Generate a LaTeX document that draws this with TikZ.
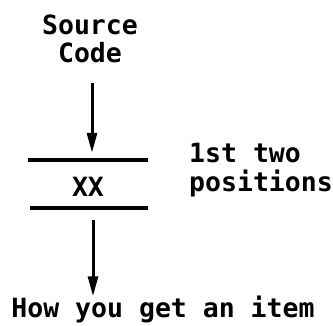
\documentclass[tikz,border=0pt]{standalone}
\usepackage{fontspec}
\newfontfamily\dmono{DejaVu Sans Mono}
\usetikzlibrary{arrows.meta}
\begin{document}
\begin{tikzpicture}[x=1pt,y=-1pt,
  lbl/.style={font=\dmono\bfseries\fontsize{26.5}{28.5}\selectfont, inner sep=0pt},
  arr/.style={line width=3pt, -{Triangle[width=10pt,length=20pt]}},
  bar/.style={line width=3.5pt}]
\useasboundingbox (0,0) rectangle (333,326);
\node[lbl, align=center] (src) at (90,39) {Source\\Code};
\node[lbl, minimum width=120pt, minimum height=48pt, text height=26pt, text depth=0pt] (xx) at (88,184) {XX};
\node[lbl, align=left, anchor=west] (pos) at (189,170) {1st two\\positions};
\node[lbl, anchor=base] (how) at (163,318) {How you get an item};
\draw[bar] (xx.north west) -- (xx.north east);
\draw[bar] ([xshift=2pt]xx.south west) -- (xx.south east);
\draw[arr] ([xshift=2pt,yshift=-20pt]src.south) -- ([xshift=4pt,yshift=7pt]xx.north);
\draw[arr] ([xshift=5pt,yshift=-12pt]xx.south) -- ([xshift=5pt]xx.south |- how.north);
\end{tikzpicture}
\end{document}
